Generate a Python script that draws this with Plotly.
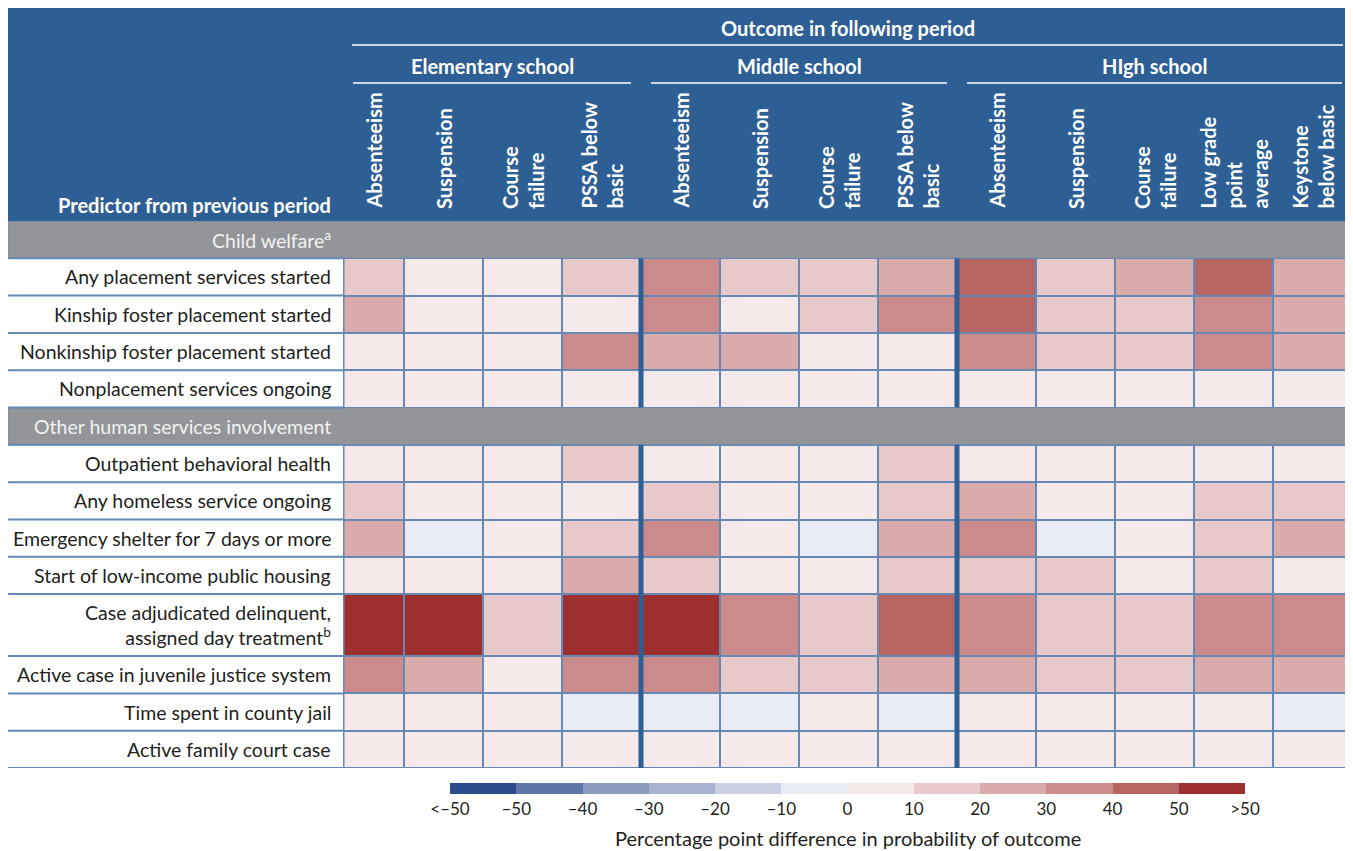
import plotly.graph_objects as go

# ---------------- data ----------------
columns = ["Absenteeism", "Suspension", "Course<br>failure", "PSSA below<br>basic",
           "Absenteeism", "Suspension", "Course<br>failure", "PSSA below<br>basic",
           "Absenteeism", "Suspension", "Course<br>failure", "Low grade<br>point<br>average",
           "Keystone<br>below basic"]
school_groups = ["Elementary school", "Middle school", "HIgh school"]
group_sizes = [4, 4, 5]

row_labels = ["Child welfare<sup>a</sup>",
              "Any placement services started",
              "Kinship foster placement started",
              "Nonkinship foster placement started",
              "Nonplacement services ongoing",
              "Other human services involvement",
              "Outpatient behavioral health",
              "Any homeless service ongoing",
              "Emergency shelter for 7 days or more",
              "Start of low-income public housing",
              "Case adjudicated delinquent,<br>assigned day treatment<sup>b</sup>",
              "Active case in juvenile justice system",
              "Time spent in county jail",
              "Active family court case"]
heading_rows = [True, False, False, False, False, True, False, False, False, False, False, False, False, False]

# percentage point difference (estimated, bin midpoints)
any_placement = [15, 5, 5, 15, 35, 15, 15, 25, 45, 15, 25, 45, 25]
kinship = [25, 5, 5, 5, 35, 5, 15, 35, 45, 15, 15, 35, 25]
nonkinship = [5, 5, 5, 35, 25, 25, 5, 5, 35, 15, 15, 35, 25]
nonplacement = [5, 5, 5, 5, 5, 5, 5, 5, 5, 5, 5, 5, 5]
outpatient = [5, 5, 5, 15, 5, 5, 5, 15, 5, 5, 5, 5, 5]
homeless = [15, 5, 5, 5, 15, 5, 5, 15, 25, 5, 5, 15, 15]
emergency_shelter = [25, -5, 5, 15, 35, 5, -5, 25, 35, -5, 5, 15, 25]
public_housing = [5, 5, 5, 25, 15, 5, 5, 15, 15, 15, 5, 15, 5]
adjudicated = [55, 55, 15, 55, 55, 35, 15, 45, 35, 15, 15, 35, 35]
juvenile_justice = [35, 25, 5, 35, 35, 15, 15, 25, 25, 15, 15, 25, 25]
county_jail = [5, 5, 5, -5, -5, -5, 5, -5, 5, 5, 5, 5, -5]
family_court = [5, 5, 5, 5, 5, 5, 5, 5, 5, 5, 5, 5, 5]

legend_ticks = ["<\u201350", "\u201350", "\u201340", "\u201330", "\u201320", "\u201310",
                "0", "10", "20", "30", "40", "50", ">50"]
legend_bounds = [-60, -50, -40, -30, -20, -10, 0, 10, 20, 30, 40, 50, 60]
bin_colors = ["#2d4a8c", "#6076a8", "#8b9bc0", "#a8b3d0", "#cbd1e4", "#e9ecf5",
              "#f5e9ea", "#e7c9ca", "#d9abab", "#cb8b8b", "#b76562", "#9e2f2f"]

# ---------------- styles / layout ----------------
W, H = 1353, 851
OFF = 8  # page body margin
L, R, T, B = 343 - OFF, W - (1352 - OFF), 221 - OFF, H - (768 - OFF)
PW, PH = W - L - R, H - T - B
HEAD_BLUE = "#2e5f94"
GRID = "#6688b4"
GRAY = "#939598"
TXT = "#231f20"
FONT = "Lato"
LABEL_SIZE = 19.5

col_widths = [61] + [79] * 12
row_heights = [1.66 if "<br>" in r else 1.0 for r in row_labels]
unit = PH / sum(row_heights)
row_heights = [h * unit for h in row_heights]

x_edges = [0]
for w in col_widths:
    x_edges.append(x_edges[-1] + w)
y_edges = [0]
for h in row_heights:
    y_edges.append(y_edges[-1] + h)
x_cent = [(x_edges[i] + x_edges[i + 1]) / 2 for i in range(len(col_widths))]
y_cent = [(y_edges[i] + y_edges[i + 1]) / 2 for i in range(len(row_heights))]


def py(p):  # screen pixel y -> paper
    return (768 - p) / PH


def pxp(p):  # screen pixel x -> paper
    return (p - 343) / PW


series = [any_placement, kinship, nonkinship, nonplacement, outpatient, homeless,
          emergency_shelter, public_housing, adjudicated, juvenile_justice,
          county_jail, family_court]
z = []
it = iter(series)
for hrow in heading_rows:
    z.append([None] * len(columns) if hrow else list(next(it)))

cscale = []
n = len(bin_colors)
for i, c in enumerate(bin_colors):
    cscale.append([i / n, c])
    cscale.append([(i + 1) / n, c])

fig = go.Figure()
fig.add_trace(go.Heatmap(
    z=z, x=x_edges, y=y_edges, zmin=-60, zmax=60, colorscale=cscale,
    xgap=2, ygap=2, hoverongaps=False,
    colorbar=dict(orientation="h", x=0.5, xanchor="center", y=py(783), yanchor="top",
                  thickness=11, len=795, lenmode="pixels", outlinewidth=0,
                  xpad=0, ypad=0, tickvals=legend_bounds, ticktext=legend_ticks,
                  ticks="", tickfont=dict(family=FONT, size=17, color=TXT)),
))

shapes = []
# header background
shapes.append(dict(type="rect", xref="paper", yref="paper", x0=pxp(8), x1=1, y0=1, y1=py(8),
                   fillcolor=HEAD_BLUE, line_width=0, layer="below"))
# gray heading bands
for i, hrow in enumerate(heading_rows):
    if hrow:
        shapes.append(dict(type="rect", xref="paper", yref="y", x0=pxp(8), x1=1,
                           y0=y_edges[i], y1=y_edges[i + 1], fillcolor=GRAY,
                           line=dict(color=GRID, width=1), layer="above"))
# horizontal lines in label column
for i in range(1, len(y_edges)):
    shapes.append(dict(type="line", xref="paper", yref="y", x0=pxp(8), x1=0,
                       y0=y_edges[i], y1=y_edges[i], line=dict(color=GRID, width=2)))
# section spans (between heading rows)
sections = []
start = None
for i, hrow in enumerate(heading_rows + [True]):
    if hrow:
        if start is not None:
            sections.append((y_edges[start], y_edges[i]))
        start = i + 1
for (a, b) in sections:
    shapes.append(dict(type="line", xref="x", yref="y", x0=0.5, x1=0.5, y0=a, y1=b,
                       line=dict(color=GRID, width=2), layer="above"))
    k = 0
    for g in group_sizes[:-1]:
        k += g
        shapes.append(dict(type="line", xref="x", yref="y", x0=x_edges[k], x1=x_edges[k],
                           y0=a, y1=b, line=dict(color=HEAD_BLUE, width=5), layer="above"))
# header rules
shapes.append(dict(type="line", xref="x", yref="paper", x0=x_edges[0] + 9, x1=x_edges[-1] - 9,
                   y0=py(45), y1=py(45), line=dict(color="white", width=1.5)))
k = 0
for g in group_sizes:
    shapes.append(dict(type="line", xref="x", yref="paper", x0=x_edges[k] + 10,
                       x1=x_edges[k + g] - 10, y0=py(83), y1=py(83),
                       line=dict(color="white", width=1.5)))
    k += g

annotations = []
annotations.append(dict(text="<b>Outcome in following period</b>", xref="x", yref="paper",
                        x=(x_edges[0] + x_edges[-1]) / 2, y=py(28), yanchor="middle",
                        showarrow=False, font=dict(family=FONT, size=20, color="white")))
k = 0
for name, g in zip(school_groups, group_sizes):
    annotations.append(dict(text="<b>%s</b>" % name, xref="x", yref="paper",
                            x=(x_edges[k] + x_edges[k + g]) / 2, y=py(66), yanchor="middle",
                            showarrow=False, font=dict(family=FONT, size=20, color="white")))
    k += g
for i, c in enumerate(columns):
    annotations.append(dict(text="<b>%s</b>" % c, xref="x", yref="paper", x=x_cent[i],
                            y=py(211), yanchor="bottom", xanchor="center", textangle=-90,
                            align="left", showarrow=False,
                            font=dict(family=FONT, size=20, color="white")))
annotations.append(dict(text="<b>Predictor from previous period</b>", xref="paper", yref="paper",
                        x=0, xshift=-10, xanchor="right", y=py(205), yanchor="middle",
                        showarrow=False, font=dict(family=FONT, size=20, color="white")))
for i, lab in enumerate(row_labels):
    annotations.append(dict(text=lab, xref="paper", yref="y", x=0, xshift=-10,
                            xanchor="right", y=y_cent[i], yanchor="middle", align="right",
                            showarrow=False,
                            font=dict(family=FONT, size=LABEL_SIZE,
                                      color="#f2f2f2" if heading_rows[i] else TXT)))
annotations.append(dict(text="Percentage point difference in probability of outcome",
                        xref="paper", yref="paper", x=0.5, y=py(838), yanchor="middle",
                        showarrow=False, font=dict(family=FONT, size=20, color=TXT)))

fig.update_layout(
    width=W, height=H, margin=dict(l=L, r=R, t=T, b=B, autoexpand=False),
    paper_bgcolor="white", plot_bgcolor=GRID,
    xaxis=dict(range=[x_edges[0], x_edges[-1]], visible=False, fixedrange=True),
    yaxis=dict(range=[y_edges[-1], y_edges[0]], visible=False, fixedrange=True),
    shapes=shapes, annotations=annotations, showlegend=False,
)
fig.write_html("out.html")
